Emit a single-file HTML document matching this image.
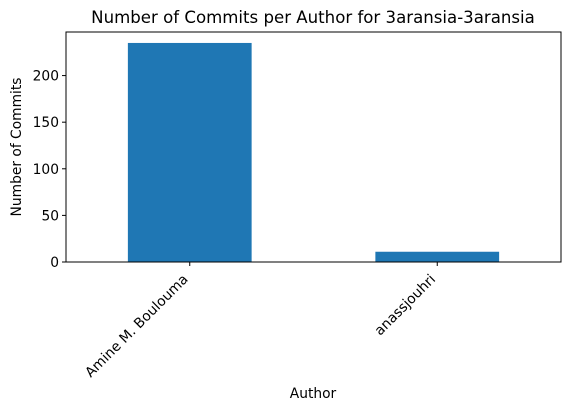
<!DOCTYPE html>
<html><head><meta charset="utf-8"><style>
body{margin:0;background:#fff;}
svg{font-family:"DejaVu Sans","Liberation Sans",sans-serif;}
</style></head><body>
<svg id="chart" width="571" height="410" viewBox="0 0 571 410">
<rect width="571" height="410" fill="#fff"/>
<text x="313" y="23" text-anchor="middle" font-size="16.6" fill="#000">Number of Commits per Author for 3aransia-3aransia</text>
<g id="plot"></g>
<text x="313" y="398" text-anchor="middle" font-size="13.8">Author</text>
<text transform="translate(21,147) rotate(-90)" text-anchor="middle" font-size="13.8">Number of Commits</text>
</svg>
<script>
const categories = ["Amine M. Boulouma", "anassjouhri"];
const commits = [235, 11];
const yTicks = [0, 50, 100, 150, 200];

const L=66,R=561,T=32,B=262;
const yMax=Math.max(...commits)*1.05;
const y=v=>B-(v/yMax)*(B-T);
const step=(R-L)/categories.length;
const x=i=>L+step*(i+0.5);
const g=document.getElementById('plot');
const NS='http://www.w3.org/2000/svg';
function mk(t,a){const e=document.createElementNS(NS,t);for(const k in a)e.setAttribute(k,a[k]);g.appendChild(e);return e;}
commits.forEach((v,i)=>{
  const r=mk('rect',{x:x(i)-step/4,y:y(v),width:step/2,height:B-y(v),fill:'#1f77b4'});
  
  
  const t=mk('line',{x1:x(i),x2:x(i),y1:B,y2:B+4,stroke:'#000','stroke-width':1});
  
  
  const ax=x(i)-1, ay=B+18;
  const lb=mk('text',{x:ax,y:ay,'text-anchor':'end','font-size':13.8,transform:`rotate(-45 ${ax} ${ay})`});
  lb.textContent=categories[i];
  
  
});
yTicks.forEach(v=>{
  const t=mk('line',{x1:L-4,x2:L,y1:y(v),y2:y(v),stroke:'#000','stroke-width':1});
  
  
  const lb=mk('text',{x:L-7,y:y(v)+5,'text-anchor':'end','font-size':13.8});
  lb.textContent=v;
  
  
});
const f=mk('rect',{x:L,y:T,width:R-L,height:B-T,fill:'none',stroke:'#000','stroke-width':1});


</script>
</body></html>
